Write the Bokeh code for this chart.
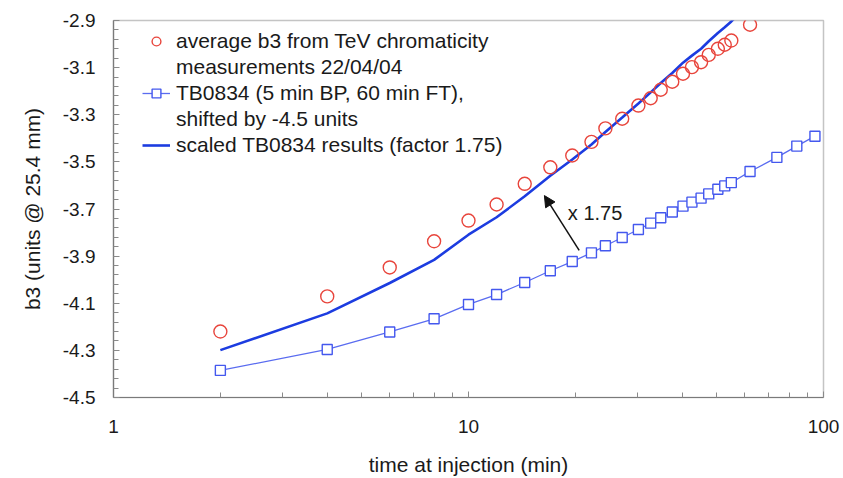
from bokeh.plotting import figure
from bokeh.models import (Range1d, FixedTicker, PrintfTickFormatter, Legend, LegendItem,
                          Arrow, NormalHead, Label)
from bokeh.embed import file_html
from bokeh.resources import INLINE
import numpy as np

# ---- data ----
T_MEAS = [2, 4, 6, 8, 10, 12, 14.4, 17, 19.6, 22.2, 24.3, 27.1, 30.1, 32.6, 34.8, 37.5,
          40.2, 42.6, 45.2, 47.5, 50.4, 52.7, 55.0, 62.1]
B3_MEAS = [-4.220, -4.071, -3.948, -3.837, -3.749, -3.681, -3.593, -3.523, -3.473, -3.415,
           -3.358, -3.317, -3.261, -3.230, -3.194, -3.160, -3.126, -3.098, -3.077, -3.046,
           -3.020, -3.003, -2.985, -2.918]

T_SIM = [2, 4, 6, 8, 10, 12, 14.4, 17, 19.6, 22.2, 24.3, 27.1, 30.1, 32.6, 34.8, 37.5,
         40.2, 42.6, 45.2, 47.5, 50.4, 52.7, 55.0, 62.1, 73.9, 84.1, 94.6]
B3_SHIFTED = [-4.385, -4.296, -4.222, -4.166, -4.105, -4.063, -4.012, -3.962, -3.923, -3.886,
              -3.856, -3.821, -3.787, -3.760, -3.737, -3.713, -3.688, -3.671, -3.654, -3.636,
              -3.616, -3.602, -3.588, -3.541, -3.481, -3.433, -3.391]
B3_SCALED = [-4.299, -4.143, -4.014, -3.916, -3.809, -3.735, -3.646, -3.559, -3.490, -3.426,
             -3.373, -3.312, -3.252, -3.205, -3.165, -3.123, -3.079, -3.049, -3.020, -2.988,
             -2.953, -2.929, -2.904, -2.822, -2.717, -2.633, -2.559]

X_TICKS = [1, 10, 100]
Y_TICKS = [-4.5, -4.3, -4.1, -3.9, -3.7, -3.5, -3.3, -3.1, -2.9]

LABEL_MEAS_1 = "average b3 from TeV chromaticity"
LABEL_MEAS_2 = "measurements 22/04/04"
LABEL_SIM_1 = "TB0834 (5 min BP, 60 min FT),"
LABEL_SIM_2 = "shifted by -4.5 units"
LABEL_SCALED = "scaled TB0834 results (factor 1.75)"

ARROW_FROM = (20.5, -3.876)
ARROW_TO = (16.36, -3.643)
ARROW_TEXT = "x 1.75"
ARROW_TEXT_POS = (19.05, -3.719)

FONT = "Liberation Sans"
TXT = "#1a1a1a"
RED = "#e8453c"
BLUE_THIN = "#5a6cf0"
BLUE_SQ = "#4458ee"
BLUE_THICK = "#1c3ce0"

p = figure(width=843, height=478, x_axis_type="log",
           x_range=Range1d(1, 100), y_range=Range1d(-4.5, -2.9),
           output_backend="svg", toolbar_location=None,
           min_border_left=113, min_border_right=20, min_border_top=20, min_border_bottom=80)
p.background_fill_color = "white"
p.border_fill_color = "white"
p.outline_line_color = "#c4c4c4"
p.outline_line_width = 1.5
p.grid.visible = False

# axes
minor_x = [m * d for d in (1, 10) for m in range(2, 10)]
p.xaxis.ticker = FixedTicker(ticks=X_TICKS, minor_ticks=minor_x)
p.xaxis.formatter = PrintfTickFormatter(format="%d")
minor_y = list(np.round(np.arange(-4.5, -2.899, 0.04), 3))
p.yaxis.ticker = FixedTicker(ticks=Y_TICKS, minor_ticks=minor_y)
p.yaxis.formatter = PrintfTickFormatter(format="%.1f")

for ax in (p.xaxis[0], p.yaxis[0]):
    ax.axis_line_color = "#7a7a7a"
    ax.axis_line_width = 1.2
    ax.major_tick_in = 6
    ax.major_tick_out = 0
    ax.minor_tick_in = 5
    ax.minor_tick_out = 0
    ax.major_tick_line_color = "#8a8a8a"
    ax.minor_tick_line_color = "#8a8a8a"
    ax.major_label_text_font = FONT
    ax.major_label_text_font_size = "19px"
    ax.major_label_text_color = TXT
    ax.axis_label_text_font = FONT
    ax.axis_label_text_font_size = "21px"
    ax.axis_label_text_font_style = "normal"
    ax.axis_label_text_color = TXT

p.xaxis.axis_label = "time at injection (min)"
p.yaxis.axis_label = "b3 (units @ 25.4 mm)"
p.xaxis.major_label_standoff = 22
p.xaxis.axis_label_standoff = 17
p.yaxis.major_label_standoff = 18
p.yaxis.axis_label_standoff = 16

# data renderers
thin = p.line(T_SIM, B3_SHIFTED, line_color=BLUE_THIN, line_width=1.3)
sq = p.scatter(T_SIM, B3_SHIFTED, marker="square", size=10, line_color=BLUE_SQ,
               fill_color="white", line_width=1.4)
thick = p.line(T_SIM, B3_SCALED, line_color=BLUE_THICK, line_width=2.6)
circ = p.scatter(T_MEAS, B3_MEAS, marker="circle", size=13, line_color=RED,
                 fill_alpha=0, line_width=1.4)

# arrow + annotation
p.add_layout(Arrow(x_start=ARROW_FROM[0], y_start=ARROW_FROM[1],
                   x_end=ARROW_TO[0], y_end=ARROW_TO[1],
                   line_color="#111111", line_width=1.5,
                   end=NormalHead(size=11, fill_color="#111111", line_color="#111111")))
p.add_layout(Label(x=ARROW_TEXT_POS[0], y=ARROW_TEXT_POS[1], text=ARROW_TEXT,
                   text_font=FONT, text_font_size="20px", text_color=TXT,
                   text_baseline="middle", text_align="left"))

# invisible renderer for continuation rows of the legend
blank = p.scatter(x=[], y=[], size=1, fill_alpha=0, line_alpha=0)

items = [
    LegendItem(label=LABEL_MEAS_1, renderers=[circ]),
    LegendItem(label=LABEL_MEAS_2, renderers=[blank]),
    LegendItem(label=LABEL_SIM_1, renderers=[thin, sq]),
    LegendItem(label=LABEL_SIM_2, renderers=[blank]),
    LegendItem(label=LABEL_SCALED, renderers=[thick]),
]
legend = Legend(items=items, location=(29, 240), padding=0, margin=0,
                spacing=2, glyph_width=28, glyph_height=22, label_height=22,
                label_standoff=6, label_text_font=FONT, label_text_font_size="21px",
                label_text_color=TXT, background_fill_alpha=0, border_line_alpha=0)
p.add_layout(legend)

open("out.html", "w").write(file_html(p, INLINE))
